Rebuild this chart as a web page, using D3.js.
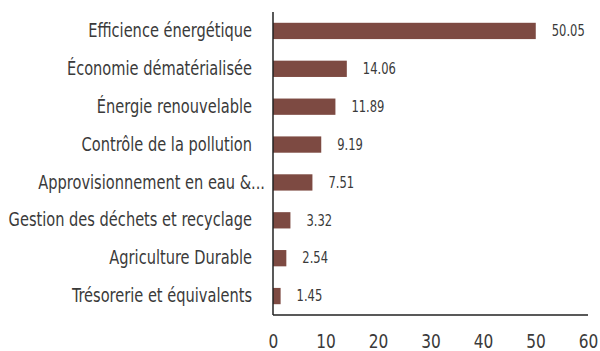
<!DOCTYPE html>
<html>
<head>
<meta charset="utf-8">
<script src="https://cdn.jsdelivr.net/npm/d3@7"></script>
<style>
  html, body { margin: 0; padding: 0; background: #fff; }
  svg { display: block; font-family: "DejaVu Sans Condensed", "Liberation Sans Narrow", "DejaVu Sans", sans-serif; }
</style>
</head>
<body>
<svg id="chart" width="600" height="351"></svg>
<script>
// Allocation by theme (%)
const categories = [
  "Efficience énergétique",
  "Économie dématérialisée",
  "Énergie renouvelable",
  "Contrôle de la pollution",
  "Approvisionnement en eau &...",
  "Gestion des déchets et recyclage",
  "Agriculture Durable",
  "Trésorerie et équivalents"
];
const values = [50.05, 14.06, 11.89, 9.19, 7.51, 3.32, 2.54, 1.45];
const xTicks = [0, 10, 20, 30, 40, 50, 60];

const svg = d3.select("#chart");
const margin = { top: 12, right: 12, bottom: 36, left: 273 };
const W = 600, H = 351;
const squeeze = 0.855; // narrows the type to a condensed look

const x = d3.scaleLinear().domain([0, 60]).range([margin.left, W - margin.right]);
const y = d3.scaleBand().domain(categories).range([margin.top, H - margin.bottom]).paddingInner(0.57).paddingOuter(0.285);

const barColor = "#7d4a42";
const textColor = "#3a3a3a";

// Bars
svg.append("g").selectAll("rect")
  .data(values)
  .join("rect")
  .attr("x", x(0))
  .attr("y", (d, i) => y(categories[i]))
  .attr("width", d => x(d) - x(0))
  .attr("height", y.bandwidth())
  .attr("fill", barColor);

// Value labels
svg.append("g").selectAll("text")
  .data(values)
  .join("text")
  .attr("x", d => x(d) + 16)
  .attr("y", (d, i) => y(categories[i]) + y.bandwidth() / 2)
  .attr("dy", "0.35em")
  .attr("font-size", 15)
  .attr("fill", textColor)
  .text(d => d.toFixed(2));

// Category axis
const yAxis = svg.append("g")
  .attr("transform", `translate(${margin.left},0)`)
  .call(d3.axisLeft(y).tickSize(0).tickPadding(21));
yAxis.attr("font-family", null);
yAxis.select(".domain").attr("stroke", "#222").attr("stroke-width", 1.5)
  .attr("d", `M0,${margin.top}V${H - margin.bottom}`);
yAxis.selectAll("text").attr("font-size", 19).attr("fill", textColor);
// truncated labels run closer to the axis
yAxis.selectAll("text").filter(d => d.endsWith("...")).attr("x", -8);

// Value axis
const xAxis = svg.append("g")
  .attr("transform", `translate(0,${H - margin.bottom})`)
  .call(d3.axisBottom(x).tickValues(xTicks).tickSize(0).tickPadding(19).tickFormat(d3.format("d")));
xAxis.attr("font-family", null);
xAxis.select(".domain").attr("stroke", "#222").attr("stroke-width", 1.5)
  .attr("d", `M${margin.left},0H${W - margin.right}`);
xAxis.selectAll("text").attr("font-size", 20).attr("fill", textColor);

// Horizontal squeeze of every label around its own anchor point
svg.selectAll("text").each(function () {
  const t = d3.select(this);
  const tx = +t.attr("x") || 0;
  t.attr("x", 0).attr("transform", `translate(${tx},0) scale(${squeeze},1)`);
});
</script>
</body>
</html>
